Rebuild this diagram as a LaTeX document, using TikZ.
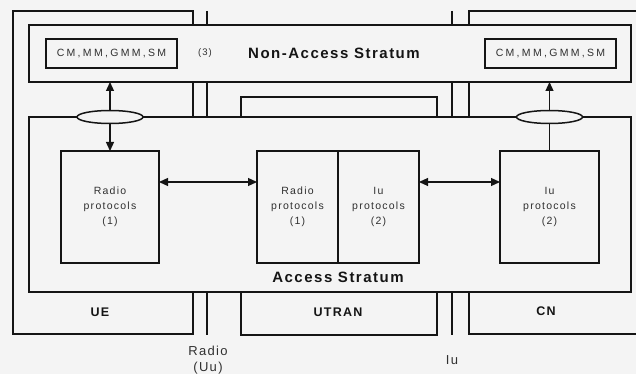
\documentclass[tikz,border=0pt]{standalone}
\usepackage{fontspec}
\setmainfont{Liberation Sans}
\newfontfamily\lsA[LetterSpace=10]{Liberation Sans}
\newfontfamily\lsB[LetterSpace=12]{Liberation Sans}
\newfontfamily\lsC[LetterSpace=22]{Liberation Sans}
\usetikzlibrary{arrows.meta,shapes.geometric}
\definecolor{bg}{HTML}{F4F4F4}
\definecolor{ink}{HTML}{151515}
\definecolor{soft}{HTML}{303030}
\begin{document}
\begin{tikzpicture}[x=1pt,y=-1pt,line width=1.2pt,
  box/.style={draw=ink,fill=bg,inner sep=0pt,outer sep=0pt,anchor=north west},
  cmbox/.style={box,line width=2.2pt,text=soft,font=\lsC\fontsize{10.5}{12}\selectfont},
  protbox/.style={box,align=center,text=soft,font=\lsB\fontsize{10.5}{15}\selectfont},
  bigtitle/.style={font=\lsA\bfseries\fontsize{15}{17}\selectfont,text=ink,inner sep=0pt},
  lbl/.style={font=\lsA\bfseries\fontsize{12.5}{14}\selectfont,text=ink,inner sep=0pt},
  iflbl/.style={font=\lsA\fontsize{13}{16}\selectfont,text=soft,align=center,inner sep=0pt},
  ell/.style={draw=ink,fill=bg,ellipse,line width=1.5pt,minimum width=66,minimum height=13,inner sep=0pt},
  tip/.style={-{Triangle[length=9pt,width=8pt]}},
  dtip/.style={{Triangle[length=9pt,width=8pt]}-{Triangle[length=9pt,width=8pt]}}]
\useasboundingbox (0,0) rectangle (636,374);
\clip (0,0) rectangle (636,374);
\fill[bg] (0,0) rectangle (636,374);
% domains
\node[box,minimum width=180,minimum height=323] (ue) at (13,11) {};
\node[box,minimum width=196,minimum height=238] (utran) at (241,97) {};
\node[box,minimum width=200,minimum height=323] (cn) at (469,11) {};
\draw[ink,line width=2.5pt] (cn.north west) -- (cn.south west);
% interface lines
\coordinate (r1) at (207,11); \coordinate (r2) at (207,335);
\coordinate (i1) at (452,11); \coordinate (i2) at (452,335);
\draw[ink] (r1) -- (r2);
\draw[ink] (i1) -- (i2);
% strata
\node[box,minimum width=602,minimum height=57] (nas) at (29,25) {};
\node[box,minimum width=602,minimum height=175] (as) at (29,117) {};
\draw[ink,line width=2.8pt] (as.north west) -- (as.south west) -- (as.south east);
\node[cmbox,minimum width=131,minimum height=29] (cml) at (46,39) {CM,MM,GMM,SM};
\node[cmbox,minimum width=131,minimum height=29] (cmr) at (485,39) {CM,MM,GMM,SM};
\node[text=soft,font=\lsA\fontsize{9.5}{10}\selectfont,inner sep=0pt] (n3) at (205,53) {(3)};
\node[bigtitle] (nast) at (334,53) {Non-Access Stratum};
\node[bigtitle] (ast) at (338,277) {Access Stratum};
% protocol boxes
\node[protbox,minimum width=98,minimum height=112] (ueR) at (61,151) {Radio\\protocols\\(1)};
\draw[ink,line width=2.8pt] (ueR.north west) -- (ueR.south west);
\node[protbox,minimum width=81,minimum height=112] (utR) at (257,151) {Radio\\protocols\\(1)};
\node[protbox,minimum width=81,minimum height=112] (utI) at (338,151) {Iu\\protocols\\(2)};
\node[protbox,minimum width=99,minimum height=112] (cnI) at (500,151) {Iu\\protocols\\(2)};
% arrows
\coordinate (ha) at (0,182);
\draw[ink,dtip] (ueR.north |- nas.south) -- (ueR.north);
\draw[ink,tip] (cnI.north) -- (cnI.north |- nas.south);
\draw[ink,dtip] (ueR.north east |- ha) -- (utR.north west |- ha);
\draw[ink,dtip] (utI.north east |- ha) -- (cnI.north west |- ha);
\node[ell] (e1) at (ueR.north |- as.north) {};
\node[ell] (e2) at (cnI.north |- as.north) {};
% labels
\node[lbl] (uel) at (100,312) {UE};
\node[lbl] (utl) at (338,312) {UTRAN};
\node[lbl] (cnl) at (546,311) {CN};
\node[iflbl] (rl) at (208,360) {Radio\\(Uu)};
\node[iflbl] (il) at (452,360) {Iu};
\end{tikzpicture}
\end{document}
